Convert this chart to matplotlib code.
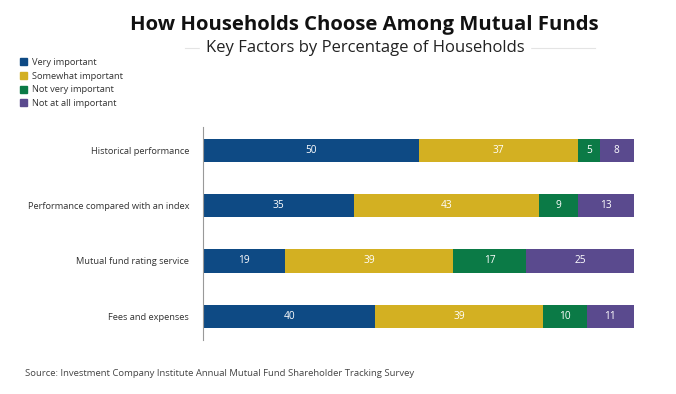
import matplotlib.pyplot as plt
import numpy as np

categories = ["Historical performance", "Performance compared with an index",
              "Mutual fund rating service", "Fees and expenses"]
levels = ["Very important", "Somewhat important", "Not very important", "Not at all important"]
very = [50, 35, 19, 40]
somewhat = [37, 43, 39, 39]
not_very = [5, 9, 17, 10]
not_at_all = [8, 13, 25, 11]
colors = ["#0e4a84", "#d3b022", "#0b7a46", "#5a4a8e"]

plt.rcParams['font.family'] = ['Open Sans', 'DejaVu Sans']

fig = plt.figure(figsize=(6.76, 3.94), dpi=100)
ax = fig.add_axes([203/676, 1-340/394, (634-203)/676, (340-127)/394])

y = np.arange(len(categories))
left = np.zeros(len(categories))
for vals, col, lab in zip([very, somewhat, not_very, not_at_all], colors, levels):
    vals = np.array(vals)
    ax.barh(y, vals, left=left, height=0.42, color=col, label=lab)
    for yi, l, v in zip(y, left, vals):
        ax.text(l + v/2, yi, str(v), ha='center', va='center', color='white', fontsize=7.3)
    left = left + vals

ax.set_xlim(0, 100)
ax.set_ylim(3.43, -0.42)
ax.set_yticks(y)
ax.set_yticklabels(categories, fontsize=6.7, color='#333333')
ax.tick_params(axis='y', length=0, pad=10)
ax.set_xticks([])
for s in ['top', 'right', 'bottom']:
    ax.spines[s].set_visible(False)
ax.spines['left'].set_color('#999999')
ax.spines['left'].set_linewidth(0.8)

fig.text(364/676, 1-25/394, "How Households Choose Among Mutual Funds", ha='center', va='center',
         fontsize=14.6, fontweight='bold', color='#111111')
fig.text(365/676, 1-48/394, "Key Factors by Percentage of Households", ha='center', va='center',
         fontsize=12, color='#222222', backgroundcolor='white', zorder=3)
fig.add_artist(plt.Line2D([185/676, 595/676], [1-48/394]*2, color='#e4e4e4', lw=0.8, zorder=1))

handles = [plt.Rectangle((0, 0), 1, 1, color=c) for c in colors]
fig.legend(handles, levels, loc='upper left', bbox_to_anchor=(20/676, 1-58/394), frameon=False,
           fontsize=6.7, handlelength=0.8, handleheight=0.8, handletextpad=0.5,
           labelspacing=0.5, borderaxespad=0, borderpad=0, labelcolor='#333333')

fig.text(25/676, 1-373/394, "Source: Investment Company Institute Annual Mutual Fund Shareholder Tracking Survey",
         ha='left', va='center', fontsize=6.8, color='#444444')

fig.savefig("out.png", dpi=100)
